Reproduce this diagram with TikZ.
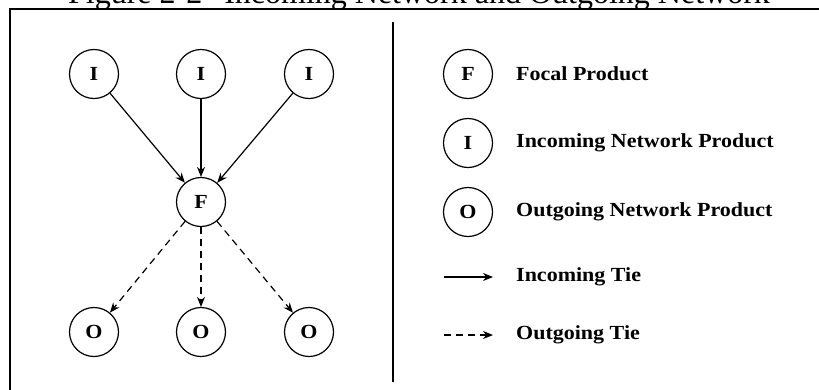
\documentclass[tikz,border=0pt]{standalone}
\usepackage{fontspec}
\setmainfont{Liberation Serif}
\newfontfamily\legfont{Liberation Serif}[FakeStretch=1.1]
\usetikzlibrary{arrows.meta}
\begin{document}
\begin{tikzpicture}[x=1pt,y=-1pt,
  prod/.style={circle,draw,line width=1.2pt,minimum size=49pt,inner sep=0pt,
    font=\legfont\bfseries\fontsize{20}{24}\selectfont},
  legtext/.style={anchor=west,inner sep=0pt,font=\legfont\bfseries\fontsize{20}{24}\selectfont},
  intie/.style={line width=1.2pt,-{Stealth[length=10pt,width=8pt]}},
  outtie/.style={intie,dash pattern=on 7pt off 5pt}]
\useasboundingbox (0,0) rectangle (819,389);
\clip (0,0) rectangle (819,389);
% title (cut off at the top)
\node[anchor=base,inner sep=0pt,font=\fontsize{32}{36}\selectfont] (title) at (419,3)
  {Figure 2-2\hspace{22pt}Incoming Network and Outgoing Network};
% frame
\draw[line width=2pt] (9.5,395) -- (9.5,9) -- (830,9);
% divider
\draw[line width=1.3pt] (393,22) -- (393,382);
% network
\node[prod] (i1) at (94,74) {I};
\node[prod] (i2) at (201,74) {I};
\node[prod] (i3) at (309,74) {I};
\node[prod] (f) at (201,202) {F};
\node[prod] (o1) at (94,332) {O};
\node[prod] (o2) at (201,332) {O};
\node[prod] (o3) at (309,332) {O};
\draw[intie] (i1) -- (f);
\draw[intie] (i2) -- (f);
\draw[intie] (i3) -- (f);
\draw[outtie] (f) -- (o1);
\draw[outtie] (f) -- (o2);
\draw[outtie] (f) -- (o3);
% legend
\node[prod] (lf) at (468,74) {F};
\node[prod] (li) at (468,143) {I};
\node[prod] (lo) at (468,212) {O};
\node[legtext] (tf) at (516,74) {Focal Product};
\node[legtext] (ti) at (516,143) {Incoming Network Product};
\node[legtext] (to) at (516,212) {Outgoing Network Product};
\coordinate (a1) at (444,277);
\coordinate (b1) at (493,277);
\coordinate (a2) at (444,335);
\coordinate (b2) at (493,335);
\draw[intie] (a1) -- (b1);
\draw[outtie] (a2) -- (b2);
\node[legtext] (tin) at (516,277) {Incoming Tie};
\node[legtext] (tout) at (516,335) {Outgoing Tie};
\end{tikzpicture}
\end{document}
